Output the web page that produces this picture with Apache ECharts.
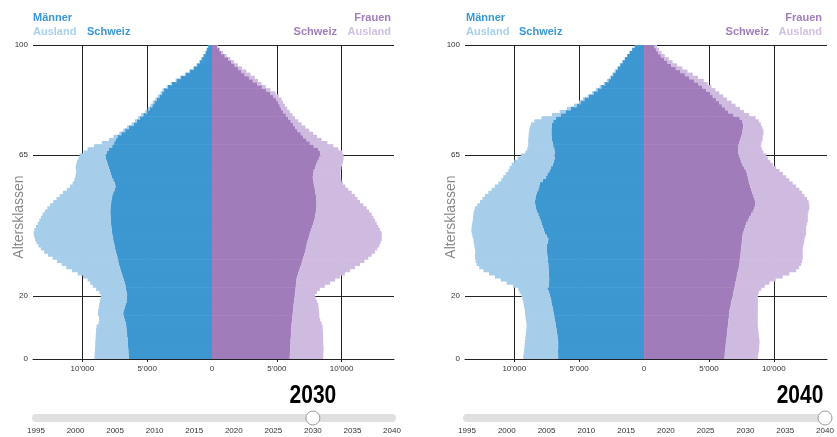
<!DOCTYPE html>
<html><head><meta charset="utf-8">
<script src="https://cdn.jsdelivr.net/npm/echarts@6/dist/echarts.min.js"></script>
<style>html,body{margin:0;padding:0;background:#fff}#c{width:837px;height:437px}</style>
</head><body><div id="c"></div>
<script>
// Altersklassen 0..100
const ages = Array.from({length:101}, (_, i) => String(i));
const ageTicks = [0, 20, 65, 100];
const popLabels = [-10, -5, 0, 5, 10];   // in Tausend
const popGrid = [-10, -5, 5, 10];
const years = [2030, 2040];
const yearMin = 1995, yearMax = 2040;

// Werte in Tausend Personen, Alter 0..100
const mSchweiz2030 = [6.42,6.44,6.45,6.47,6.48,6.49,6.52,6.55,6.57,6.6,
6.62,6.66,6.72,6.8,6.85,6.83,6.75,6.68,6.6,6.56,
6.55,6.6,6.65,6.68,6.75,6.82,6.9,6.98,7.05,7.12,
7.19,7.24,7.3,7.35,7.42,7.48,7.53,7.58,7.63,7.67,
7.71,7.74,7.77,7.8,7.81,7.83,7.84,7.85,7.84,7.82,
7.78,7.74,7.7,7.62,7.52,7.45,7.5,7.62,7.72,7.8,
7.88,7.96,8.04,8.12,8.18,8.2,8.1,7.95,7.7,7.55,
7.45,7.3,7.0,6.7,6.4,6.05,5.8,5.55,5.3,5.0,
4.8,4.6,4.45,4.25,4.05,3.85,3.7,3.4,3.1,2.75,
2.4,2.05,1.7,1.4,1.15,0.95,0.8,0.65,0.5,0.4,
0.3];
const mAusland2030 = [2.65,2.61,2.58,2.55,2.52,2.51,2.46,2.42,2.38,2.34,
2.28,2.09,1.98,1.92,1.95,1.95,1.99,2.02,2.05,2.04,
2.01,2.1,2.29,2.52,2.65,2.78,3.05,3.38,3.75,4.13,
4.41,4.71,5.0,5.3,5.53,5.72,5.87,5.97,6.02,6.05,
6.05,5.96,5.81,5.65,5.51,5.37,5.23,5.05,4.86,4.68,
4.47,4.26,4.05,3.88,3.68,3.5,3.25,3.0,2.83,2.7,
2.6,2.56,2.44,2.3,2.12,2.02,1.8,1.65,1.4,0.95,
0.5,0.3,0.15,0.15,0.15,0.15,0.15,0.15,0.15,0.15,
0.15,0.15,0.12,0.12,0.12,0.12,0.12,0.1,0.08,0.06,
0.06,0.05,0.05,0.05,0.05,0.04,0.03,0.03,0.03,0.02,
0.02];
const fSchweiz2030 = [6.0,6.01,6.02,6.03,6.05,6.06,6.07,6.09,6.1,6.12,
6.13,6.15,6.17,6.2,6.23,6.26,6.28,6.3,6.33,6.36,
6.39,6.42,6.45,6.47,6.5,6.52,6.58,6.65,6.73,6.82,
6.91,6.98,7.05,7.12,7.18,7.24,7.3,7.36,7.43,7.49,
7.55,7.63,7.71,7.79,7.87,7.94,7.98,8.02,8.05,8.07,
8.07,8.05,8.02,7.98,7.94,7.9,7.85,7.8,7.78,7.8,
7.85,7.95,8.05,8.15,8.25,8.35,8.33,8.2,7.85,7.55,
7.3,7.05,6.85,6.6,6.42,6.26,6.08,5.9,5.7,5.5,
5.35,5.23,5.1,4.97,4.75,4.5,4.2,3.85,3.5,3.15,
2.85,2.52,2.27,2.0,1.75,1.5,1.24,0.98,0.72,0.55,
0.39];
const fAusland2030 = [2.58,2.57,2.58,2.57,2.53,2.52,2.5,2.47,2.45,2.42,
2.4,2.3,2.18,2.08,2.04,1.99,1.94,1.9,1.77,1.64,
1.55,1.68,1.87,2.23,2.6,2.98,3.29,3.6,3.91,4.21,
4.51,4.77,5.01,5.2,5.4,5.51,5.61,5.64,5.66,5.61,
5.54,5.34,5.13,4.92,4.71,4.51,4.34,4.1,3.88,3.61,
3.35,3.17,3.01,2.8,2.58,2.4,2.25,2.18,2.14,2.1,
2.07,2.03,2.0,1.95,1.9,1.8,1.72,1.55,1.51,1.35,
1.15,1.05,0.95,0.9,0.78,0.65,0.57,0.5,0.5,0.5,
0.45,0.39,0.38,0.39,0.4,0.4,0.3,0.3,0.31,0.4,
0.45,0.45,0.38,0.32,0.25,0.2,0.18,0.15,0.13,0.07,
0.07];
const mSchweiz2040 = [6.62,6.62,6.63,6.62,6.62,6.62,6.65,6.68,6.72,6.75,
6.79,6.83,6.87,6.92,6.96,7.0,7.05,7.1,7.15,7.2,
7.26,7.32,7.45,7.35,7.32,7.31,7.32,7.34,7.35,7.37,
7.38,7.4,7.43,7.46,7.48,7.51,7.48,7.42,7.38,7.5,
7.64,7.72,7.82,7.9,7.98,8.07,8.15,8.25,8.33,8.38,
8.41,8.38,8.33,8.25,8.15,8.08,8.03,7.8,7.55,7.45,
7.3,7.18,7.05,6.95,6.9,6.9,6.88,6.92,7.0,7.05,
7.1,7.13,7.14,7.14,7.13,7.1,7.0,6.78,6.4,6.05,
5.65,5.2,4.9,4.6,4.25,3.9,3.6,3.3,3.0,2.75,
2.55,2.38,2.2,2.02,1.84,1.66,1.48,1.3,1.12,0.92,
0.72];
const mAusland2040 = [2.69,2.66,2.62,2.6,2.58,2.56,2.5,2.44,2.38,2.32,
2.26,2.23,2.23,2.22,2.2,2.18,2.17,2.17,2.16,2.18,
2.18,2.28,2.24,2.75,3.27,3.74,4.17,4.61,5.03,5.33,
5.52,5.58,5.6,5.57,5.52,5.52,5.6,5.7,5.77,5.72,
5.64,5.58,5.46,5.34,5.22,5.11,5.0,4.85,4.7,4.47,
4.23,4.07,3.93,3.75,3.59,3.42,3.2,3.2,3.3,3.2,
3.16,3.17,3.15,3.05,2.85,2.6,2.27,2.08,1.93,1.87,
1.82,1.77,1.74,1.71,1.67,1.6,1.45,1.12,0.7,0.45,
0.3,0.2,0.1,0.12,0.1,0.1,0.12,0.12,0.1,0.1,
0.09,0.07,0.06,0.05,0.03,0.02,0.01,0.01,0.01,0.01,
0.01];
const fSchweiz2040 = [6.21,6.22,6.25,6.28,6.3,6.33,6.36,6.38,6.41,6.43,
6.46,6.49,6.51,6.54,6.56,6.59,6.64,6.69,6.74,6.8,
6.85,6.9,6.95,7.0,7.05,7.1,7.15,7.2,7.26,7.31,
7.36,7.38,7.41,7.44,7.46,7.49,7.51,7.54,7.57,7.59,
7.62,7.7,7.78,7.87,8.0,8.13,8.26,8.39,8.51,8.56,
8.59,8.52,8.44,8.35,8.26,8.18,8.12,8.06,8.0,7.93,
7.87,7.74,7.6,7.49,7.4,7.3,7.25,7.25,7.28,7.32,
7.4,7.48,7.55,7.6,7.65,7.65,7.55,7.38,6.9,6.5,
6.25,6.0,5.78,5.55,5.3,5.05,4.8,4.5,4.2,3.85,
3.5,3.15,2.8,2.45,2.1,1.8,1.55,1.3,1.1,0.92,
0.8];
const fAusland2040 = [2.56,2.58,2.58,2.58,2.58,2.57,2.52,2.47,2.41,2.37,
2.31,2.27,2.25,2.23,2.21,2.18,2.13,2.08,2.03,1.97,
1.92,1.95,2.08,2.3,2.62,3.05,3.54,4.0,4.46,4.64,
4.74,4.8,4.82,4.79,4.77,4.74,4.76,4.78,4.79,4.84,
4.87,4.79,4.71,4.68,4.62,4.49,4.36,4.29,4.23,4.18,
4.1,4.03,3.92,3.83,3.71,3.54,3.34,3.14,2.95,2.77,
2.57,2.44,2.32,2.24,2.14,2.12,1.95,1.83,1.72,1.73,
1.73,1.67,1.65,1.6,1.45,1.35,1.3,1.22,1.2,1.2,
1.15,1.05,0.97,0.85,0.8,0.75,0.7,0.7,0.7,0.75,
0.65,0.6,0.55,0.5,0.45,0.4,0.35,0.3,0.25,0.23,
0.2];

const C = {
  mCH: '#3d97d1', mAus: '#a6cdea', fCH: '#a07dba', fAus: '#cfbbdf',
  mText: '#3b97d5', mAusText: '#a9d0ee', fText: '#a07dbb', fAusText: '#d2c0e2',
  line: '#222', label: '#333'
};
const FONT = '"Liberation Sans", Arial, sans-serif';

const panels = [
  { m: mSchweiz2030, ma: mAusland2030, f: fSchweiz2030, fa: fAusland2030,
    grid: {left: 33, top: 45, width: 361, height: 314}, xmin: -13.81, xmax: 14.04,
    slider: {left: 36, width: 356}, leg: {l: 33, r: 391, gap: 54}, nameX: 19 },
  { m: mSchweiz2040, ma: mAusland2040, f: fSchweiz2040, fa: fAusland2040,
    grid: {left: 465, top: 45, width: 362, height: 314}, xmin: -13.797, xmax: 14.1,
    slider: {left: 467, width: 358}, leg: {l: 466, r: 822, gap: 53}, nameX: 451 }
];

function fmtPop(v) {
  const n = Math.round(Math.abs(v) * 1000);
  return String(n).replace(/\B(?=(\d{3})+(?!\d))/g, "'");
}

const grid = [], xAxis = [], yAxis = [], series = [], graphic = [];
panels.forEach((p, i) => {
  const g = grid.length;
  grid.push(Object.assign({}, p.grid));
  xAxis.push({
    type: 'value', gridIndex: g, min: p.xmin, max: p.xmax,
    axisLine: {show: true, lineStyle: {color: C.line, width: 1}},
    axisTick: {show: true, length: 3, customValues: popGrid, lineStyle: {color: C.line}},
    axisLabel: {customValues: popLabels, formatter: fmtPop, fontSize: 8, color: C.label, margin: 6, fontFamily: FONT},
    splitLine: {show: true, lineStyle: {color: C.line, width: 1}}
  });
  const yc = yAxis.length;
  yAxis.push({type: 'category', gridIndex: g, data: ages, show: false, boundaryGap: true});
  yAxis.push({
    type: 'value', gridIndex: g, min: 0, max: 100, position: 'left',
    axisLine: {show: false},
    axisTick: {show: false, customValues: ageTicks},
    axisLabel: {customValues: ageTicks, fontSize: 8, color: C.label, margin: 5, fontFamily: FONT},
    splitLine: {show: true, lineStyle: {color: C.line, width: 1}}
  });
  const base = {type: 'bar', xAxisIndex: g, yAxisIndex: yc, barWidth: 3.8, barGap: '-100%', animation: false, silent: true};
  const mk = (name, stack, data, color) => Object.assign({}, base, {
    name, stack: stack + i, data, itemStyle: {color}
  });
  series.push(mk('Männer Schweiz', 'm', p.m.map(v => -v), C.mCH));
  series.push(mk('Männer Ausland', 'm', p.ma.map(v => -v), C.mAus));
  series.push(mk('Frauen Schweiz', 'f', p.f, C.fCH));
  series.push(mk('Frauen Ausland', 'f', p.fa, C.fAus));

  // slider / timeline
  const gs = grid.length;
  grid.push({left: p.slider.left, width: p.slider.width, top: 417, height: 1});
  xAxis.push({
    type: 'value', gridIndex: gs, min: yearMin, max: yearMax, interval: 5,
    axisLine: {show: true, lineStyle: {color: '#e0e0e0', width: 8}},
    axisTick: {show: false}, splitLine: {show: false},
    axisLabel: {fontSize: 8, color: C.label, margin: 9, fontFamily: FONT, formatter: v => String(v)}
  });
  const ys = yAxis.length;
  yAxis.push({type: 'value', gridIndex: gs, min: 0, max: 1, show: false});
  series.push({
    type: 'scatter', xAxisIndex: xAxis.length - 1, yAxisIndex: ys, clip: false, silent: true,
    data: [[years[i], 0]], symbol: 'circle', symbolSize: 14, z: 5,
    itemStyle: {color: '#fff', borderColor: '#9a9a9a', borderWidth: 1, opacity: 1}
  });

  // year label
  const cx = p.slider.left + (years[i] - yearMin) / (yearMax - yearMin) * p.slider.width;
  graphic.push({type: 'text', x: Math.min(cx, p.leg.r - 22), y: 396, scaleX: 0.84,
    style: {text: String(years[i]), font: 'bold 25px ' + FONT, fill: '#000', align: 'center', verticalAlign: 'middle'}});

  // axis title
  graphic.push({type: 'text', x: p.nameX, y: 217, rotation: Math.PI / 2,
    style: {text: 'Altersklassen', font: '14px ' + FONT, fill: '#8a8a8a', align: 'center', verticalAlign: 'middle'}});

  // legend texts
  const lf = 'bold 11px ' + FONT;
  const t = (text, x, y, fill, align) => ({type: 'text', x, y, style: {text, font: lf, fill, align, verticalAlign: 'middle'}});
  graphic.push(t('Männer', p.leg.l, 18, C.mText, 'left'));
  graphic.push(t('Ausland', p.leg.l, 32, C.mAusText, 'left'));
  graphic.push(t('Schweiz', p.leg.l + p.leg.gap, 32, C.mText, 'left'));
  graphic.push(t('Frauen', p.leg.r, 18, C.fText, 'right'));
  graphic.push(t('Ausland', p.leg.r, 32, C.fAusText, 'right'));
  graphic.push(t('Schweiz', p.leg.r - p.leg.gap, 32, C.fText, 'right'));
});

const chart = echarts.init(document.getElementById('c'), null, {renderer: 'canvas'});
chart.setOption({
  backgroundColor: '#fff', animation: false,
  textStyle: {fontFamily: FONT},
  grid, xAxis, yAxis, series, graphic
});
</script></body></html>
